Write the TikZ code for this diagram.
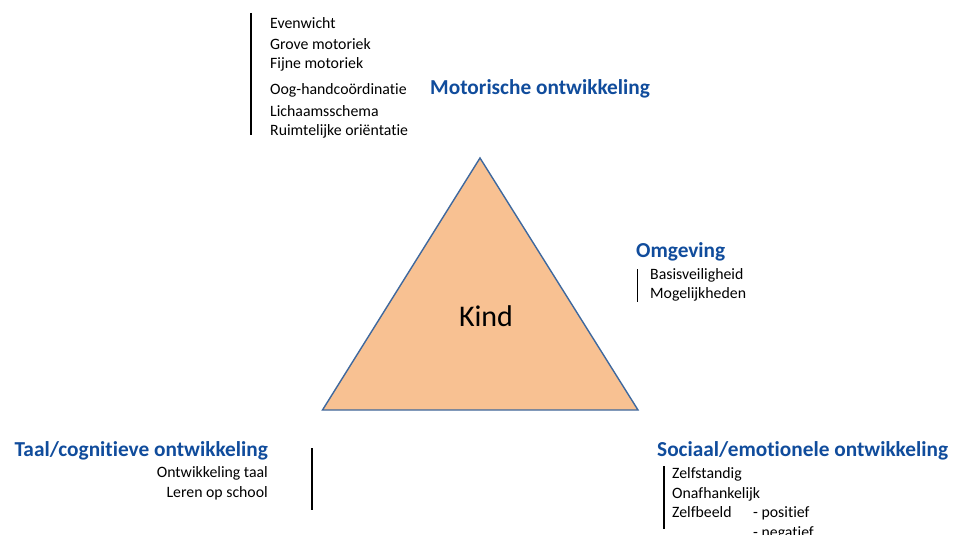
\documentclass[tikz,border=0pt]{standalone}
\usepackage{fontspec}
\setmainfont{Carlito}[Ligatures={NoCommon}]
\definecolor{headblue}{RGB}{16,76,156}
\definecolor{trifill}{RGB}{248,193,146}
\definecolor{triedge}{RGB}{62,104,158}
\begin{document}
\begin{tikzpicture}[x=1pt,y=-1pt,
  item/.style={inner sep=0pt,font=\fontsize{15.8}{18}\selectfont,text=black},
  head/.style={inner sep=0pt,font=\fontsize{21.3}{25}\selectfont\bfseries,text=headblue},
  bar/.style={draw=black,line width=1.6pt},
  tri/.style={fill=trifill,draw=triedge,line width=1.4pt,line join=miter}]
\clip (0,0) rectangle (953,535);
\fill[white] (0,0) rectangle (953,535);

% central triangle
\coordinate (top) at (480,158);
\coordinate (bl) at (322.5,410);
\coordinate (br) at (638,410);
\draw[tri] (top) -- (bl) -- (br) -- cycle;
\node[inner sep=0pt,anchor=base,font=\fontsize{30}{36}\selectfont] (kind) at (486,326) {Kind};

% motor development
\node[head,anchor=base west] (motor) at (430,94) {Motorische ontwikkeling};
\node[item,anchor=base west] (m1) at (270,29) {Evenwicht};
\node[item,anchor=base west] (m2) at (270,49) {Grove motoriek};
\node[item,anchor=base west] (m3) at (270,68) {Fijne motoriek};
\node[item,anchor=base west] (m4) at (270,94) {Oog-handcoördinatie};
\node[item,anchor=base west] (m5) at (270,116) {Lichaamsschema};
\node[item,anchor=base west] (m6) at (270,135) {Ruimtelijke oriëntatie};
\coordinate (mb1) at (251,13);
\coordinate (mb2) at (251,135);
\draw[bar] (mb1) -- (mb2);

% environment
\node[head,anchor=base west] (omg) at (636,257) {Omgeving};
\node[item,anchor=base west] (o1) at (650,279) {Basisveiligheid};
\node[item,anchor=base west] (o2) at (650,298) {Mogelijkheden};
\coordinate (ob1) at (637.5,269);
\coordinate (ob2) at (637.5,302);
\draw[bar] (ob1) -- (ob2);

% language / cognitive development
\node[head,anchor=base east] (taal) at (268,456) {Taal/cognitieve ontwikkeling};
\node[item,anchor=base east] (t1) at (268,477) {Ontwikkeling taal};
\node[item,anchor=base east] (t2) at (268,497) {Leren op school};
\coordinate (tb1) at (312,448);
\coordinate (tb2) at (312,510);
\draw[bar] (tb1) -- (tb2);

% social / emotional development
\node[head,anchor=base west] (soc) at (657,456) {Sociaal/emotionele ontwikkeling};
\node[item,anchor=base west] (s1) at (672,478) {Zelfstandig};
\node[item,anchor=base west] (s2) at (672,498) {Onafhankelijk};
\node[item,anchor=base west] (s3) at (672,517) {Zelfbeeld};
\node[item,anchor=base west] (s4) at (753,517) {- positief};
\node[item,anchor=base west] (s5) at (753,537) {- negatief};
\coordinate (sb1) at (664,466);
\coordinate (sb2) at (664,529);
\draw[bar] (sb1) -- (sb2);
\end{tikzpicture}
\end{document}
